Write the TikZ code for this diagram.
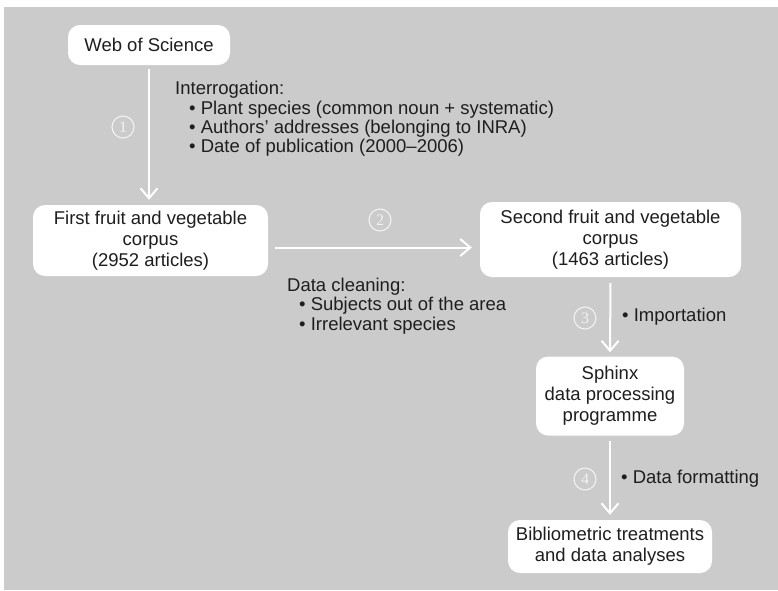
\documentclass[tikz,border=0pt]{standalone}
\usepackage{fontspec}
\setmainfont{Liberation Sans}
\newfontfamily\numserif{Liberation Serif}
\usetikzlibrary{arrows.meta,calc}
\definecolor{bg}{HTML}{CBCBCB}
\definecolor{txt}{HTML}{1E1E1E}
\definecolor{numc}{HTML}{F2F2F2}
\begin{document}
\begin{tikzpicture}[x=1pt,y=-1pt,
  box/.style={fill=white, rounded corners=12pt, align=center, inner sep=0pt, text=txt, font=\fontsize{18.5}{21}\selectfont},
  lbl/.style={anchor=base west, inner sep=0pt, text=txt, font=\fontsize{18.5}{20}\selectfont},
  num/.style={circle, draw=numc, line width=1.1pt, minimum size=22pt, inner sep=0pt, text=numc, font=\numserif\fontsize{16}{16}\selectfont},
  arr/.style={draw=white, line width=2pt, -{Straight Barb[length=10pt,width=17pt,line width=2pt]}}]
\useasboundingbox (0,0) rectangle (778,590);
\fill[white] (0,0) rectangle (778,590);
\fill[bg] (4,7) rectangle (778,590);

\node[box, minimum width=162pt, minimum height=40pt] (wos) at (149,45) {Web of Science};
\node[box, minimum width=235pt, minimum height=71pt] (first) at (150.5,240.5) {First fruit and vegetable\\corpus\\(2952 articles)};
\node[box, minimum width=261pt, minimum height=75pt] (sec) at (610.5,239.5) {Second fruit and vegetable\\corpus\\(1463 articles)};
\node[box, minimum width=148pt, minimum height=79pt] (sph) at (610,396) {Sphinx\\data processing\\programme};
\node[box, minimum width=204pt, minimum height=53pt] (bib) at (610,546.5) {Bibliometric treatments\\and data analyses};

\draw[arr, shorten <=4pt, shorten >=5pt] (wos.south) -- (wos.south |- first.north);
\draw[arr, shorten <=7pt, shorten >=8pt] ($(first.east)+(0,7)$) -- ($(first.east -| sec.west)+(0,7)$);
\draw[arr, shorten <=6pt, shorten >=4pt] (sec.south) -- (sph.north);
\draw[arr, shorten <=5pt, shorten >=5pt] (sph.south) -- (bib.north);

\node[num] (n1) at (123,127) {1};
\node[num] (n2) at (380,220) {2};
\node[num] (n3) at (585,318) {3};
\node[num] (n4) at (585,479) {4};

\node[lbl] (i0) at (175,94.5) {Interrogation:};
\node[lbl] (i1) at (189,114.5) {• Plant species (common noun + systematic)};
\node[lbl] (i2) at (189,133.5) {• Authors’ addresses (belonging to INRA)};
\node[lbl] (i3) at (189,152.5) {• Date of publication (2000–2006)};

\node[lbl] (d0) at (287,291.5) {Data cleaning:};
\node[lbl] (d1) at (299,310.5) {• Subjects out of the area};
\node[lbl] (d2) at (299,330.5) {• Irrelevant species};

\node[lbl] (imp) at (622,321.5) {• Importation};
\node[lbl] (fmt) at (621,483.5) {• Data formatting};
\end{tikzpicture}
\end{document}
